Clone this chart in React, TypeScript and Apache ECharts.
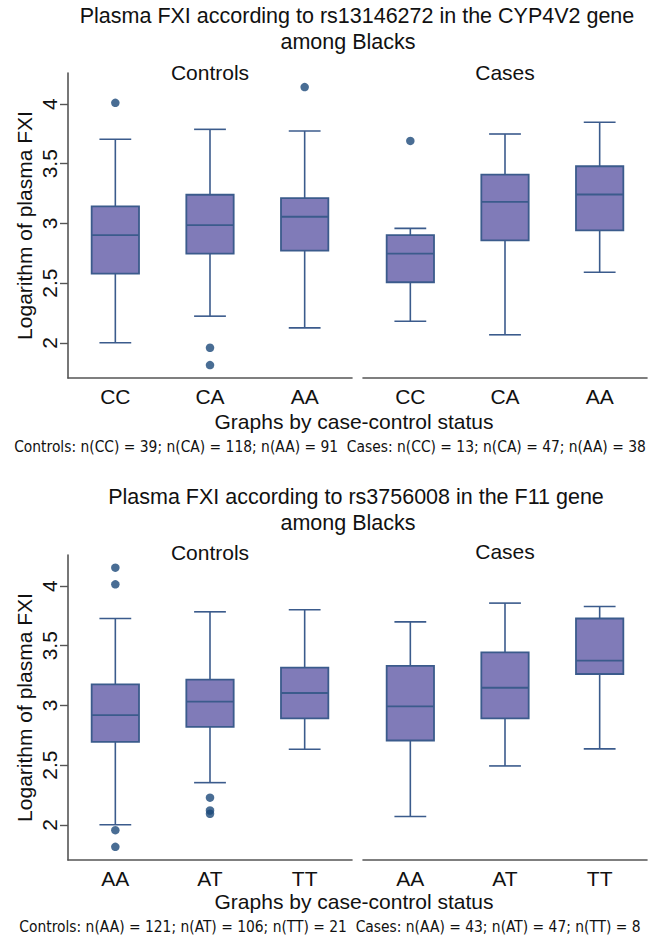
import React, { useEffect, useRef } from "react";
import * as echarts from "echarts";

// ---------- data ----------
const topCategories = ["CC", "CA", "AA"];
const bottomCategories = ["AA", "AT", "TT"];
const yTicks = [2, 2.5, 3, 3.5, 4];

// [lowerWhisker, Q1, median, Q3, upperWhisker]
const topControlsBoxes = [
  [2.0, 2.579, 2.902, 3.142, 3.705],
  [2.223, 2.747, 2.986, 3.24, 3.788],
  [2.125, 2.772, 3.056, 3.212, 3.774],
];
const topControlsOutliers = [
  [0, 4.01],
  [1, 1.958],
  [1, 1.813],
  [2, 4.142],
];
const topCasesBoxes = [
  [2.181, 2.507, 2.747, 2.902, 2.958],
  [2.067, 2.858, 3.181, 3.409, 3.749],
  [2.591, 2.942, 3.242, 3.479, 3.847],
];
const topCasesOutliers = [[0, 3.691]];

const bottomControlsBoxes = [
  [2.0, 2.695, 2.919, 3.176, 3.728],
  [2.353, 2.821, 3.031, 3.216, 3.784],
  [2.633, 2.891, 3.104, 3.317, 3.801],
];
const bottomControlsOutliers = [
  [0, 4.154],
  [0, 4.014],
  [0, 1.955],
  [0, 1.815],
  [1, 2.227],
  [1, 2.12],
  [1, 2.092],
];
const bottomCasesBoxes = [
  [2.07, 2.706, 2.992, 3.331, 3.7],
  [2.493, 2.891, 3.148, 3.445, 3.857],
  [2.636, 3.263, 3.375, 3.728, 3.829],
];
const bottomCasesOutliers: number[][] = [];

const topTitle = "Plasma FXI according to rs13146272 in the CYP4V2 gene";
const bottomTitle = "Plasma FXI according to rs3756008 in the F11 gene";
const subTitle = "among Blacks";
const topNote =
  "Controls: n(CC) = 39; n(CA) = 118; n(AA) = 91  Cases: n(CC) = 13; n(CA) = 47; n(AA) = 38";
const bottomNote =
  "Controls: n(AA) = 121; n(AT) = 106; n(TT) = 21  Cases: n(AA) = 43; n(AT) = 47; n(TT) = 8";

// ---------- styles ----------
const FONT = "'Liberation Sans', Arial, Helvetica, sans-serif";
const NARROW = "'Liberation Sans Narrow', 'DejaVu Sans Condensed', 'Liberation Sans', sans-serif";
const BOX_FILL = "#807bb8";
const BOX_STROKE = "#3b5b8c";
const OUTLIER = "#1b4879";
const AXIS = "#555555";
const Y_MIN = 1.705;
const Y_MAX = 4.26;

const renderBox = (params: any, api: any) => {
  const x = api.value(0);
  const lw = api.coord([x, api.value(1)]);
  const q1 = api.coord([x, api.value(2)]);
  const med = api.coord([x, api.value(3)]);
  const q3 = api.coord([x, api.value(4)]);
  const uw = api.coord([x, api.value(5)]);
  const band = api.size([1, 0])[0];
  const hb = band * 0.25;
  const hc = band * 0.168;
  const cx = lw[0];
  const lineStyle = { stroke: BOX_STROKE, lineWidth: 1.6 };
  return {
    type: "group",
    children: [
      { type: "line", shape: { x1: cx, y1: uw[1], x2: cx, y2: q3[1] }, style: lineStyle },
      { type: "line", shape: { x1: cx, y1: q1[1], x2: cx, y2: lw[1] }, style: lineStyle },
      { type: "line", shape: { x1: cx - hc, y1: uw[1], x2: cx + hc, y2: uw[1] }, style: lineStyle },
      { type: "line", shape: { x1: cx - hc, y1: lw[1], x2: cx + hc, y2: lw[1] }, style: lineStyle },
      {
        type: "rect",
        shape: { x: cx - hb, y: q3[1], width: hb * 2, height: q1[1] - q3[1] },
        style: { fill: BOX_FILL, stroke: BOX_STROKE, lineWidth: 1.8 },
      },
      { type: "line", shape: { x1: cx - hb, y1: med[1], x2: cx + hb, y2: med[1] }, style: { stroke: BOX_STROKE, lineWidth: 1.8 } },
    ],
  };
};

export default function App() {
  const ref = useRef<HTMLDivElement>(null);
  useEffect(() => {
    if (!ref.current) return;
    const chart = echarts.init(ref.current, null, { renderer: "svg" });

    const grids = [
      { left: 68, top: 73, width: 284, height: 305 },
      { left: 363, top: 73, width: 284, height: 305 },
      { left: 68, top: 555, width: 284, height: 305 },
      { left: 363, top: 555, width: 284, height: 305 },
    ];
    const cats = [topCategories, topCategories, bottomCategories, bottomCategories];
    const boxes = [topControlsBoxes, topCasesBoxes, bottomControlsBoxes, bottomCasesBoxes];
    const outs = [topControlsOutliers, topCasesOutliers, bottomControlsOutliers, bottomCasesOutliers];

    const xAxis = grids.map((_, i) => ({
      type: "category",
      gridIndex: i,
      data: cats[i],
      boundaryGap: true,
      axisLine: { show: true, lineStyle: { color: AXIS, width: 1.6 } },
      axisTick: { show: false },
      axisLabel: { color: "#111", fontSize: 21, lineHeight: 21, fontFamily: FONT, margin: 8 },
      splitLine: { show: false },
    }));
    const yAxis = grids.map((_, i) => {
      const left = i % 2 === 0;
      return {
        type: "value",
        gridIndex: i,
        min: Y_MIN,
        max: Y_MAX,
        show: left,
        name: left ? "Logarithm of plasma FXI" : "",
        nameLocation: "middle",
        nameRotate: 90,
        nameGap: 33,
        nameTextStyle: { color: "#111", fontSize: 21, fontFamily: FONT },
        axisLine: { show: left, lineStyle: { color: AXIS, width: 1.6 } },
        axisTick: { show: left, customValues: yTicks, length: 8, lineStyle: { color: AXIS, width: 1.4 } },
        axisLabel: {
          show: left,
          customValues: yTicks,
          rotate: 90,
          color: "#111",
          fontSize: 21,
          fontFamily: FONT,
          margin: 8,
          formatter: (v: number) => String(v),
        },
        splitLine: { show: false },
      };
    });

    const series: any[] = [];
    grids.forEach((_, i) => {
      series.push({
        type: "custom",
        xAxisIndex: i,
        yAxisIndex: i,
        renderItem: renderBox,
        data: boxes[i].map((b, k) => [k, ...b]),
        encode: { x: 0, y: [1, 2, 3, 4, 5] },
      });
      series.push({
        type: "scatter",
        xAxisIndex: i,
        yAxisIndex: i,
        symbol: "circle",
        symbolSize: 8.5,
        itemStyle: { color: OUTLIER },
        data: outs[i],
      });
    });

    const txt = (text: string, x: number, y: number, size: number, family = FONT) => ({
      type: "text",
      x,
      y,
      style: { text, fill: "#111", fontSize: size, fontFamily: family, align: "center", verticalAlign: "middle" },
    });

    const graphic = [
      txt(topTitle, 357, 16, 21.5),
      txt(subTitle, 348, 42, 21.5),
      txt("Controls", 210, 72, 21),
      txt("Cases", 505, 72, 21),
      txt("Graphs by case-control status", 354, 421, 21),
      txt(topNote, 330, 447, 15.4, NARROW),
      txt(bottomTitle, 356, 497, 21.5),
      txt(subTitle, 348, 523, 21.5),
      txt("Controls", 210, 552, 21),
      txt("Cases", 505, 551, 21),
      txt("Graphs by case-control status", 354, 901, 21),
      txt(bottomNote, 330, 927, 15.4, NARROW),
    ];

    chart.setOption({
      animation: false,
      backgroundColor: "#ffffff",
      grid: grids,
      xAxis,
      yAxis,
      series,
      graphic,
    });
    return () => chart.dispose();
  }, []);
  return <div ref={ref} style={{ position: "absolute", left: 0, top: 0, width: 652, height: 940 }} />;
}
